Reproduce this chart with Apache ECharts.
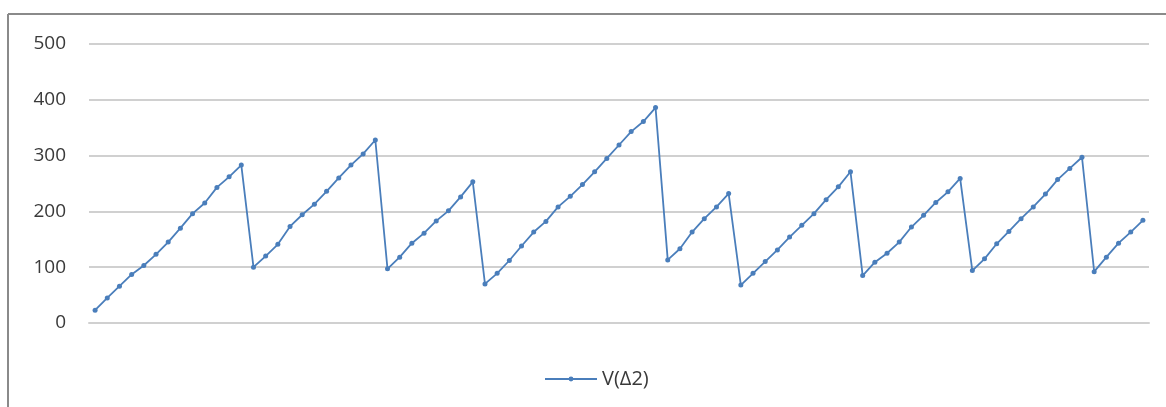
<!DOCTYPE html>
<html>
<head>
<meta charset="utf-8">
<script src="https://cdn.jsdelivr.net/npm/echarts@6/dist/echarts.min.js"></script>
<style>html,body{margin:0;padding:0;background:#fff}#c{width:1166px;height:407px}</style>
</head>
<body>
<div id="c"></div>
<script>
const seriesName = 'V(Δ2)';
const values = [
  23,45,66,87,103,123,145,170,196,215,243,262,283,
  100,120,141,173,194,213,236,260,283,303,328,
  97,118,143,161,183,201,226,253,
  70,89,112,138,163,182,208,227,248,271,295,319,343,361,386,
  113,133,163,187,208,232,
  68,89,110,131,154,175,196,221,244,271,
  85,109,125,145,172,193,216,235,259,
  94,115,142,164,187,208,231,257,277,297,
  92,118,143,163,184
];
const categories = values.map((v, i) => String(i + 1));
const yTicks = [0, 100, 200, 300, 400, 500];

const chart = echarts.init(document.getElementById('c'));
chart.setOption({
  animation: false,
  backgroundColor: '#fff',
  graphic: [
    { type: 'line', shape: { x1: 8, y1: 14, x2: 1166, y2: 14 }, style: { stroke: '#8a8a8a', lineWidth: 2 } },
    { type: 'line', shape: { x1: 8, y1: 14, x2: 8, y2: 407 }, style: { stroke: '#8a8a8a', lineWidth: 2 } }
  ],
  grid: { left: 89, right: 17, top: 44, bottom: 84 },
  legend: {
    bottom: 13,
    left: 539,
    itemWidth: 52,
    itemHeight: 6,
    itemGap: 10,
    textStyle: { color: '#3a3a3a', fontSize: 20, fontFamily: 'Open Sans, Noto Sans, sans-serif' },
    data: [seriesName]
  },
  xAxis: {
    type: 'category',
    data: categories,
    boundaryGap: true,
    axisLine: { show: true, lineStyle: { color: '#d0d0d0', width: 2 } },
    axisTick: { show: false },
    axisLabel: { show: false },
    splitLine: { show: false }
  },
  yAxis: {
    type: 'value',
    min: yTicks[0],
    max: yTicks[yTicks.length - 1],
    interval: 100,
    axisLine: { show: false },
    axisTick: { show: false },
    axisLabel: { color: '#3a3a3a', fontSize: 19, margin: 23, fontFamily: 'Open Sans, Noto Sans, sans-serif' },
    splitLine: { lineStyle: { color: '#d0d0d0', width: 2 } }
  },
  series: [{
    name: seriesName,
    type: 'line',
    data: values,
    symbol: 'circle',
    symbolSize: 5,
    showAllSymbol: true,
    lineStyle: { color: '#4a7ebb', width: 1.8 },
    itemStyle: { color: '#4a7ebb' }
  }]
});
</script>
</body>
</html>
